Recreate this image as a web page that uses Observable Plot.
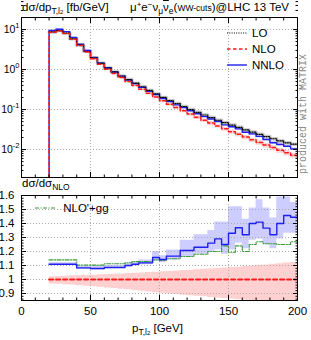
<!DOCTYPE html>
<html><head><meta charset="utf-8">
<script src="https://cdn.jsdelivr.net/npm/d3@7"></script>
<script src="https://cdn.jsdelivr.net/npm/@observablehq/plot@0.6"></script>
<style>
body{margin:0;background:#fff;}
#wrap{position:relative;width:311px;height:340px;overflow:hidden;font-family:"Liberation Sans",Arial,sans-serif;color:#000;}
#wrap svg{position:absolute;left:0;}
.t{position:absolute;white-space:nowrap;font-size:11.5px;line-height:1;}
.t sub{font-size:8.5px;vertical-align:-3px;line-height:0;}
.t sup{font-size:8px;vertical-align:4px;line-height:0;}
.leg{position:absolute;display:flex;align-items:center;height:12px;font-size:11.5px;white-space:nowrap;}
.leg svg{position:static!important;margin-right:5px;}
</style></head><body><div id="wrap"></div>
<script>
// ---- data (bins of 5 GeV from 20 to 200 GeV) ----
const binLo = [20,25,30,35,40,45,50,55,60,65,70,75,80,85,90,95,100,105,110,115,120,125,130,135,140,145,150,155,160,165,170,175,180,185,190,195];
const xEnd = 200;
// top panel: dσ/dpT [fb/GeV]
const lo   = [8.7,9.4,8.15,5.85,4.12,2.86,1.94,1.43,1.09,0.87,0.69,0.56,0.456,0.371,0.30,0.246,0.201,0.167,0.141,0.119,0.100,0.085,0.073,0.063,0.054,0.047,0.041,0.036,0.031,0.0273,0.0240,0.0211,0.0186,0.0164,0.0147,0.0136];
const nlo  = [8.5,9.2,8.0,5.7,4.0,2.75,1.85,1.35,1.02,0.80,0.63,0.50,0.40,0.32,0.255,0.205,0.165,0.135,0.112,0.093,0.077,0.064,0.054,0.046,0.039,0.033,0.028,0.024,0.0205,0.0176,0.0151,0.0130,0.0112,0.0096,0.0083,0.0072];
const nnlo = [9.43,10.2,8.87,6.32,4.33,2.98,2.0,1.46,1.11,0.869,0.684,0.55,0.444,0.358,0.285,0.237,0.189,0.158,0.131,0.112,0.093,0.0787,0.0664,0.058,0.0503,0.0413,0.0372,0.0329,0.0271,0.0246,0.0213,0.0178,0.0148,0.0134,0.0121,0.0104];
// bottom panel: ratios to NLO
const rNNLO   = [1.109,1.109,1.109,1.109,1.083,1.083,1.079,1.079,1.086,1.086,1.086,1.100,1.109,1.119,1.119,1.157,1.143,1.167,1.167,1.207,1.207,1.23,1.23,1.26,1.29,1.25,1.33,1.37,1.32,1.40,1.41,1.367,1.32,1.40,1.457,1.445];
const rNNLOup = [1.12,1.12,1.12,1.12,1.095,1.095,1.095,1.095,1.10,1.10,1.10,1.115,1.125,1.14,1.14,1.20,1.17,1.21,1.21,1.28,1.28,1.32,1.32,1.35,1.41,1.41,1.52,1.52,1.43,1.51,1.57,1.51,1.44,1.59,1.59,1.55];
const rNNLOdn = [1.098,1.098,1.098,1.098,1.072,1.072,1.068,1.068,1.076,1.078,1.078,1.09,1.097,1.105,1.105,1.13,1.12,1.14,1.14,1.16,1.16,1.18,1.18,1.2,1.21,1.18,1.21,1.26,1.22,1.28,1.29,1.25,1.22,1.29,1.33,1.33];
const rGG     = [1.14,1.14,1.14,1.14,1.103,1.103,1.103,1.103,1.112,1.112,1.112,1.12,1.128,1.128,1.128,1.14,1.136,1.148,1.148,1.164,1.164,1.18,1.18,1.2,1.2,1.24,1.195,1.24,1.2,1.25,1.27,1.255,1.255,1.25,1.25,1.27];
const rNLOup  = [1.020,1.022,1.023,1.026,1.028,1.030,1.031,1.034,1.036,1.037,1.040,1.042,1.044,1.046,1.050,1.052,1.055,1.057,1.061,1.064,1.066,1.070,1.073,1.075,1.079,1.082,1.085,1.088,1.093,1.096,1.101,1.104,1.109,1.112,1.117,1.122];
const rNLOdn  = [0.968,0.966,0.963,0.960,0.956,0.952,0.948,0.944,0.940,0.935,0.931,0.926,0.921,0.916,0.911,0.906,0.901,0.896,0.892,0.888,0.884,0.880,0.876,0.872,0.868,0.864,0.860,0.856,0.852,0.848,0.845,0.842,0.838,0.835,0.832,0.829];
const rNLO = nlo.map(v => v / v); // NLO normalised to itself
// ticks
const xTicks = [0,50,100,150,200];
const xTickLabels = ["0","50","100","150","200"];
const yTopTicks = [10,1,0.1,0.01];
const yTopLabels = ["10^1","10^0","10^-1","10^-2"];
const yBotTicks = [0.9,1,1.1,1.2,1.3,1.4,1.5,1.6];
const yBotLabels = ["0.9","1","1.1","1.2","1.3","1.4","1.5","1.6"];

// ---- helpers ----
const stepPts = (vals, drop) => {
  const p = binLo.map((x, i) => ({x, y: vals[i]}));
  p.push({x: xEnd, y: vals[vals.length - 1]});
  if (drop != null) p.unshift({x: binLo[0], y: drop});
  return p;
};
const bandPts = (dn, up) => {
  const p = binLo.map((x, i) => ({x, y1: dn[i], y2: up[i]}));
  p.push({x: xEnd, y1: dn[dn.length - 1], y2: up[up.length - 1]});
  return p;
};
const xMinor = d3.range(0, 201, 10).filter(v => v % 50 !== 0);
const logMinor = [];
for (const d of [0.001, 0.01, 0.1, 1, 10]) for (let m = 2; m <= 9; m++) logMinor.push(d * m);
const botMinor = d3.range(0.86, 1.6, 0.02).filter(v => Math.abs(v * 10 - Math.round(v * 10)) > 0.01);

const font = "'Liberation Sans', Arial, sans-serif";
const blue = "#1f1ff0", red = "#ff1a1a", green = "#3a9a3a";
const gridOpts = {stroke: "#aaa", strokeOpacity: 1, strokeDasharray: "1,2"};
const tickMarks = (kind, major, minor) => {
  const axis = kind === "x" ? Plot.axisX : Plot.axisY;
  const anchors = kind === "x" ? ["top", "bottom"] : ["left", "right"];
  const out = [];
  for (const a of anchors) {
    out.push(axis(major, {anchor: a, tickSize: -5, tickFormat: () => "", label: null, stroke: "#000"}));
    out.push(axis(minor, {anchor: a, tickSize: -2.5, tickFormat: () => "", label: null, stroke: "#000"}));
  }
  return out;
};

const wrap = document.getElementById("wrap");

// ---- top panel ----
const nloBandTop = bandPts(nlo.map((v, i) => v * rNLOdn[i]), nlo.map((v, i) => v * rNLOup[i]));
const nnloBandTop = bandPts(nlo.map((v, i) => v * rNNLOdn[i]), nlo.map((v, i) => v * rNNLOup[i]));
const topPlot = Plot.plot({
  width: 311, height: 180,
  marginLeft: 21, marginRight: 14, marginTop: 17, marginBottom: 3,
  style: {background: "transparent", fontFamily: font, fontSize: "11.5px", overflow: "visible"},
  x: {domain: [0, 200]},
  y: {type: "log", domain: [0.002, 20]},
  marks: [
    Plot.areaY(nloBandTop, {x: "x", y1: "y1", y2: "y2", curve: "step-after", fill: "#ffc8c8", fillOpacity: 0.8, clip: true}),
    Plot.areaY(nnloBandTop, {x: "x", y1: "y1", y2: "y2", curve: "step-after", fill: "#c8c8ff", fillOpacity: 0.8, clip: true}),
    Plot.gridX(xTicks.slice(1, -1), gridOpts),
    Plot.gridY(yTopTicks, gridOpts),
    Plot.line(stepPts(lo), {x: "x", y: "y", curve: "step-after", stroke: "#c8c8c8", strokeWidth: 3.5, clip: true}),
    Plot.line(stepPts(nnlo, 0.001), {x: "x", y: "y", curve: "step-after", stroke: blue, strokeWidth: 1.4, clip: true}),
    Plot.line(stepPts(lo), {x: "x", y: "y", curve: "step-after", stroke: "#000", strokeWidth: 1.2, strokeDasharray: "1,1.3", clip: true}),
    Plot.line(stepPts(nlo, 0.001), {x: "x", y: "y", curve: "step-after", stroke: red, strokeWidth: 1.5, strokeDasharray: "3.5,2.5", clip: true}),
    Plot.frame({stroke: "#000", strokeWidth: 1}),
    ...tickMarks("x", xTicks, xMinor),
    ...tickMarks("y", yTopTicks, logMinor),
    Plot.axisY(yTopTicks, {anchor: "left", tickSize: 0, tickPadding: 2, label: null, tickFormat: (d, i) => yTopLabels[yTopTicks.indexOf(d)], fontSize: 10.5})
  ]
});
topPlot.style.top = "0px";
wrap.appendChild(topPlot);
// superscripts for 10^n labels
topPlot.querySelectorAll("text").forEach(t => {
  const s = t.textContent;
  if (s.startsWith("10^")) {
    t.textContent = "";
    const ns = "http://www.w3.org/2000/svg";
    const a = document.createElementNS(ns, "tspan"); a.textContent = "10";
    const b = document.createElementNS(ns, "tspan"); b.textContent = s.slice(3);
    b.setAttribute("dy", "-4.5"); b.setAttribute("font-size", "7.5");
    t.appendChild(a); t.appendChild(b);
  }
});

// ---- bottom panel ----
const botPlot = Plot.plot({
  width: 311, height: 160,
  marginLeft: 21, marginRight: 14, marginTop: 15, marginBottom: 40,
  style: {background: "transparent", fontFamily: font, fontSize: "11.5px", overflow: "visible"},
  x: {domain: [0, 200]},
  y: {domain: [0.85, 1.6]},
  marks: [
    Plot.areaY(bandPts(rNLOdn, rNLOup), {x: "x", y1: "y1", y2: "y2", curve: "step-after", fill: "#ffd0d0", clip: true}),
    Plot.areaY(bandPts(rNNLOdn, rNNLOup), {x: "x", y1: "y1", y2: "y2", curve: "step-after", fill: "#cdcdff", clip: true}),
    Plot.gridX(xTicks.slice(1, -1), gridOpts),
    Plot.gridY(yBotTicks.slice(0, -1), gridOpts),
    Plot.line(stepPts(rGG), {x: "x", y: "y", curve: "step-after", stroke: green, strokeWidth: 1.1, strokeDasharray: "4,1.5,1,1.5", clip: true}),
    Plot.line(stepPts(rNNLO), {x: "x", y: "y", curve: "step-after", stroke: blue, strokeWidth: 1.4, clip: true}),
    Plot.line(stepPts(rNLO), {x: "x", y: "y", curve: "step-after", stroke: red, strokeWidth: 2, strokeDasharray: "4,3", clip: true}),
    Plot.frame({stroke: "#000", strokeWidth: 1}),
    ...tickMarks("x", xTicks, xMinor),
    ...tickMarks("y", yBotTicks, botMinor),
    Plot.axisX(xTicks, {anchor: "bottom", tickSize: 0, tickPadding: 6, label: null, tickFormat: d => xTickLabels[xTicks.indexOf(d)], fontSize: 11.5}),
    Plot.axisY(yBotTicks, {anchor: "left", tickSize: 0, tickPadding: 7, label: null, tickFormat: d => yBotLabels[yBotTicks.indexOf(d)], fontSize: 11.5})
  ]
});
botPlot.style.top = "180px";
wrap.appendChild(botPlot);

// ---- texts & legends ----
const html = `
<div class="t" style="left:22px;top:2px">d&sigma;/dp<sub>T,l<span style="font-size:6px">2</span></sub> [fb/GeV]</div>
<div class="t" style="left:130px;top:2px">&mu;<sup>+</sup>e<sup>&minus;</sup>&nu;<sub>&mu;</sub><span style="text-decoration:overline">&nu;</span><sub>e</sub>(<span style="font-size:8.5px">WW-cuts</span>)@LHC 13 TeV</div>
<div class="leg" style="left:227px;top:27px"><svg width="20" height="12"><line x1="0" x2="20" y1="6" y2="6" stroke="#000" stroke-width="1.2" stroke-dasharray="1,1.3"/></svg>LO</div>
<div class="leg" style="left:227px;top:43px"><svg width="20" height="12"><line x1="0" x2="20" y1="6" y2="6" stroke="${red}" stroke-width="1.5" stroke-dasharray="3.5,2.5"/></svg>NLO</div>
<div class="leg" style="left:227px;top:59px"><svg width="20" height="12"><line x1="0" x2="20" y1="6" y2="6" stroke="${blue}" stroke-width="1.4"/></svg>NNLO</div>
<div class="t" style="left:22px;top:178px">d&sigma;/d&sigma;<sub>NLO</sub></div>
<div class="leg" style="left:35px;top:202px"><svg width="20" height="12"><line x1="0" x2="20" y1="6" y2="6" stroke="${green}" stroke-width="1.1" stroke-dasharray="4,1.5,1,1.5"/></svg>&nbsp;NLO'+gg</div>
<div class="t" style="left:132px;top:323px">p<sub>T,l<span style="font-size:6px">2</span></sub> [GeV]</div>
<div style="position:absolute;left:303px;top:114px;transform:translate(-50%,-50%) rotate(-90deg);font:10px 'Liberation Mono',monospace;color:#888;white-space:nowrap">produced with MATRIX</div>
`;
wrap.insertAdjacentHTML("beforeend", html);
</script></body></html>
